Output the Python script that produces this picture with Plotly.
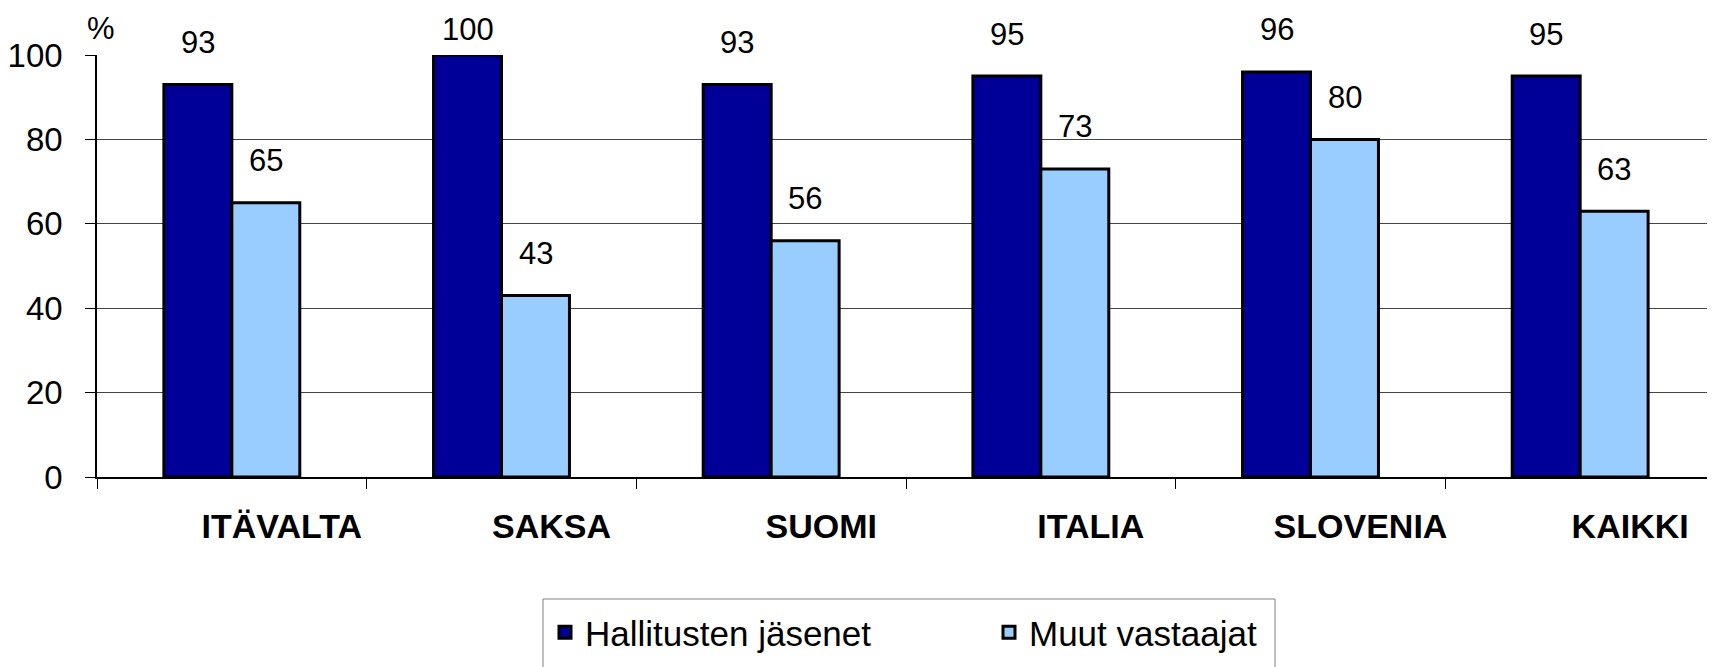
import plotly.graph_objects as go

# ---- data ----
categories = ["ITÄVALTA", "SAKSA", "SUOMI", "ITALIA", "SLOVENIA", "KAIKKI"]
hallitusten_jasenet = [93, 100, 93, 95, 96, 95]
muut_vastaajat = [65, 43, 56, 73, 80, 63]
series_names = ["Hallitusten jäsenet", "Muut vastaajat"]
y_ticks = [0, 20, 40, 60, 80, 100]

# ---- style ----
FONT = "Liberation Sans, Arial, sans-serif"
DARK = "#000099"
LIGHT = "#99CCFF"
OFF = 8                      # default page margin around the plot div
W, H = 1715 - OFF, 667 - OFF
# target plot area on the page: x 97..1715, y 55..477
M_L, M_R, M_T = 97 - OFF, 0, 55 - OFF
M_B = H - (477 - OFF)
LABEL_GAP = 42          # px between bar top and value label centre
LABEL_CEIL = 96.2       # keep top labels inside the page
BAR_HALF = 34           # half bar width in px (for label x shift)

ph = H - M_T - M_B
pw = W - M_L - M_R


def px_x(px):
    """page x pixel -> paper coordinate"""
    return (px - OFF - M_L) / pw


def px_y(py):
    """page y pixel -> paper coordinate"""
    return (H - M_B - (py - OFF)) / ph


fig = go.Figure()
for name, vals, col in [(series_names[0], hallitusten_jasenet, DARK),
                        (series_names[1], muut_vastaajat, LIGHT)]:
    fig.add_trace(go.Bar(
        x=categories, y=vals, name=name,
        marker=dict(color=col, line=dict(color="black", width=3)),
        hoverinfo="x+y",
    ))

annotations = []
for vals, sgn in [(hallitusten_jasenet, -1), (muut_vastaajat, 1)]:
    for c, v in zip(categories, vals):
        annotations.append(dict(
            x=c, y=min(v, LABEL_CEIL), xref="x", yref="y",
            text=str(v), showarrow=False,
            xshift=sgn * BAR_HALF, yshift=LABEL_GAP,
            xanchor="center", yanchor="middle",
            font=dict(family=FONT, size=31, color="black"),
        ))
annotations.append(dict(
    x=px_x(101), y=px_y(29), xref="paper", yref="paper", text="%",
    showarrow=False, xanchor="center", yanchor="middle",
    font=dict(family=FONT, size=31, color="black"),
))

# legend frame (extends past the bottom of the page as in the original)
shapes = [dict(
    type="rect", xref="paper", yref="paper",
    x0=px_x(543), x1=px_x(1275), y0=px_y(599), y1=px_y(700),
    line=dict(color="#808080", width=1), fillcolor="rgba(0,0,0,0)",
    layer="above",
)]

fig.update_layout(
    width=W, height=H,
    margin=dict(l=M_L, r=M_R, t=M_T, b=M_B, pad=0, autoexpand=False),
    paper_bgcolor="white", plot_bgcolor="white",
    barmode="group", bargap=0.496, bargroupgap=0,
    font=dict(family=FONT, size=31, color="black"),
    showlegend=True,
    legend=dict(
        orientation="h",
        x=px_x(545), xanchor="left",
        y=px_y(603), yanchor="top",
        borderwidth=0,
        bgcolor="rgba(0,0,0,0)",
        font=dict(family=FONT, size=35, color="black"),
        entrywidth=399, entrywidthmode="pixels",
    ),
    annotations=annotations,
    shapes=shapes,
)
fig.update_xaxes(
    type="category", range=[-0.5, 5.5], automargin=False,
    showline=True, linecolor="black", linewidth=1.5,
    ticks="outside", tickson="boundaries", ticklen=10, tickcolor="black", tickwidth=1,
    tickfont=dict(family=FONT, size=34, color="black", weight="bold"),
    ticklabelstandoff=18, ticklabelshift=50,
    showgrid=False, zeroline=False,
)
fig.update_yaxes(
    range=[0, 100], tickvals=y_ticks, automargin=False,
    showline=True, linecolor="black", linewidth=1.5,
    ticks="outside", ticklen=10, tickcolor="black", tickwidth=1,
    tickfont=dict(family=FONT, size=33, color="black"),
    ticklabelstandoff=16,
    showgrid=True, gridcolor="#444444", gridwidth=1,
    zeroline=False,
)

fig.write_html("out.html")
